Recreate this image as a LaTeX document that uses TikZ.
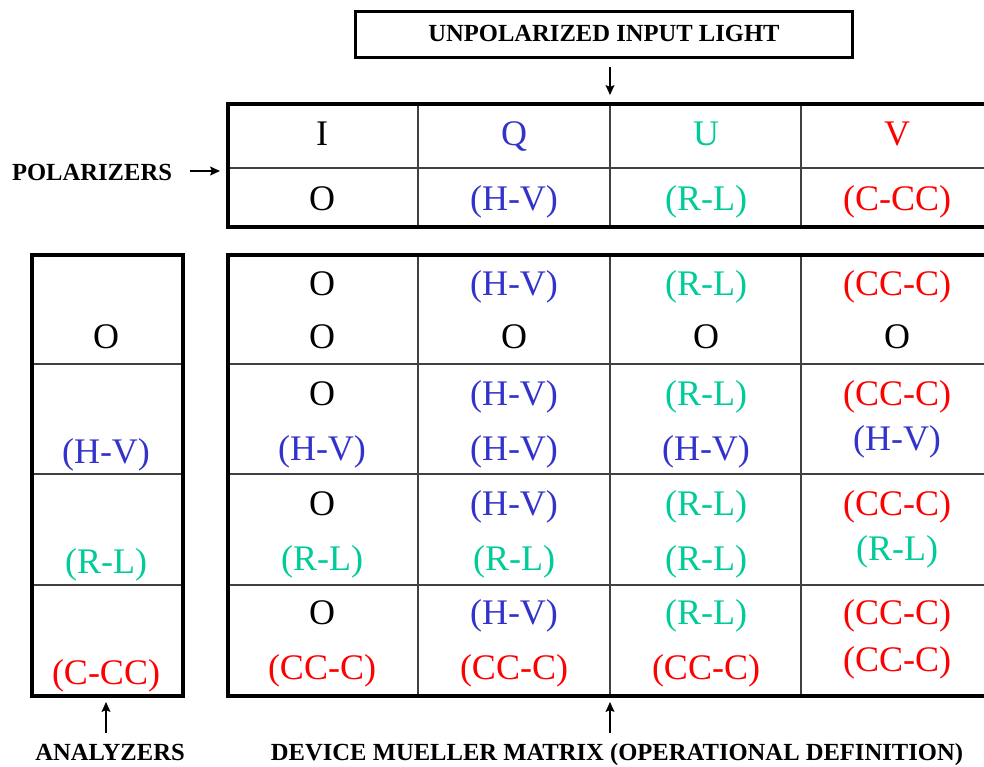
\documentclass[tikz,border=0pt]{standalone}
\usepackage{fontspec}
\setmainfont{Liberation Serif}
\usetikzlibrary{arrows.meta}
\definecolor{qblue}{RGB}{51,51,204}
\definecolor{uteal}{RGB}{0,204,153}
\definecolor{vred}{RGB}{255,0,0}
\begin{document}
\begin{tikzpicture}[x=1pt,y=-1pt,
  cell/.style={font=\fontsize{36}{40}\selectfont, anchor=base, inner sep=0pt},
  lbl/.style={font=\fontsize{24.6}{28}\selectfont\bfseries, anchor=base, inner sep=0pt},
  thinline/.style={line width=1.5pt, draw=black!75},
  thickbox/.style={draw, line width=4pt, inner sep=0pt, anchor=north west},
  arr/.style={-{Stealth[length=10pt,width=9pt,inset=2pt]}, line width=1.2pt}]
\useasboundingbox (0,0) rectangle (984,766);
\clip (0,0) rectangle (984,766);
\fill[white] (0,0) rectangle (984,766);

% input box
\node[draw, line width=3pt, minimum width=497pt, minimum height=46pt, inner sep=0pt] (input) at (604,34.5) {};
\node[lbl] (inputtxt) at (604,41) {UNPOLARIZED INPUT LIGHT};

% polarizer table
\draw[thinline] (226,168) -- (993,168);
\foreach \x in {418,610,801} \draw[thinline] (\x,102) -- (\x,225);
\node[thickbox, minimum width=767pt, minimum height=123pt] (ptab) at (226,102) {};

% analyzer column
\foreach \y in {364,474,585} \draw[thinline] (30,\y) -- (181,\y);
\node[thickbox, minimum width=151pt, minimum height=441pt] (atab) at (30,253) {};

% mueller matrix
\foreach \y in {364,474,585} \draw[thinline] (226,\y) -- (993,\y);
\foreach \x in {418,610,801} \draw[thinline] (\x,253) -- (\x,694);
\node[thickbox, minimum width=767pt, minimum height=441pt] (mtab) at (226,253) {};

% labels
\node[lbl] (pol) at (92,180) {POLARIZERS};
\node[lbl] (ana) at (110,760) {ANALYZERS};
\node[lbl] (dev) at (617,760) {DEVICE MUELLER MATRIX (OPERATIONAL DEFINITION)};

% arrows
\coordinate (a1s) at (610,67); \coordinate (a1e) at (610,95);
\coordinate (a2s) at (190,171); \coordinate (a2e) at (220,171);
\coordinate (a3s) at (106,733); \coordinate (a3e) at (106,702);
\coordinate (a4s) at (610,733); \coordinate (a4e) at (610,702);
\draw[arr] (a1s) -- (a1e);
\draw[arr] (a2s) -- (a2e);
\draw[arr] (a3s) -- (a3e);
\draw[arr] (a4s) -- (a4e);

% polarizer table text
\node[cell] (pI) at (322,145) {I};
\node[cell, text=qblue] (pQ) at (514,145) {Q};
\node[cell, text=uteal] (pU) at (706,145) {U};
\node[cell, text=vred] (pV) at (897,145) {V};
\node[cell] (p1) at (322,210) {O};
\node[cell, text=qblue] (p2) at (514,210) {(H-V)};
\node[cell, text=uteal] (p3) at (706,210) {(R-L)};
\node[cell, text=vred] (p4) at (897,210) {(C-CC)};

% analyzer text
\node[cell] (a1) at (106,348) {O};
\node[cell, text=qblue] (a2) at (106,463) {(H-V)};
\node[cell, text=uteal] (a3) at (106,573) {(R-L)};
\node[cell, text=vred] (a4) at (106,684) {(C-CC)};

% mueller matrix text, row 1
\node[cell] (m11a) at (322,295) {O};
\node[cell, text=qblue] (m12a) at (514,295) {(H-V)};
\node[cell, text=uteal] (m13a) at (706,295) {(R-L)};
\node[cell, text=vred] (m14a) at (897,295) {(CC-C)};
\node[cell] (m11b) at (322,348) {O};
\node[cell] (m12b) at (514,348) {O};
\node[cell] (m13b) at (706,348) {O};
\node[cell] (m14b) at (897,348) {O};
% row 2
\node[cell] (m21a) at (322,405) {O};
\node[cell, text=qblue] (m22a) at (514,405) {(H-V)};
\node[cell, text=uteal] (m23a) at (706,405) {(R-L)};
\node[cell, text=vred] (m24a) at (897,405) {(CC-C)};
\node[cell, text=qblue] (m21b) at (322,460) {(H-V)};
\node[cell, text=qblue] (m22b) at (514,460) {(H-V)};
\node[cell, text=qblue] (m23b) at (706,460) {(H-V)};
\node[cell, text=qblue] (m24b) at (897,450) {(H-V)};
% row 3
\node[cell] (m31a) at (322,515) {O};
\node[cell, text=qblue] (m32a) at (514,515) {(H-V)};
\node[cell, text=uteal] (m33a) at (706,515) {(R-L)};
\node[cell, text=vred] (m34a) at (897,515) {(CC-C)};
\node[cell, text=uteal] (m31b) at (322,570) {(R-L)};
\node[cell, text=uteal] (m32b) at (514,570) {(R-L)};
\node[cell, text=uteal] (m33b) at (706,570) {(R-L)};
\node[cell, text=uteal] (m34b) at (897,560) {(R-L)};
% row 4
\node[cell] (m41a) at (322,624) {O};
\node[cell, text=qblue] (m42a) at (514,624) {(H-V)};
\node[cell, text=uteal] (m43a) at (706,624) {(R-L)};
\node[cell, text=vred] (m44a) at (897,624) {(CC-C)};
\node[cell, text=vred] (m41b) at (322,679) {(CC-C)};
\node[cell, text=vred] (m42b) at (514,679) {(CC-C)};
\node[cell, text=vred] (m43b) at (706,679) {(CC-C)};
\node[cell, text=vred] (m44b) at (897,671) {(CC-C)};
\end{tikzpicture}
\end{document}
